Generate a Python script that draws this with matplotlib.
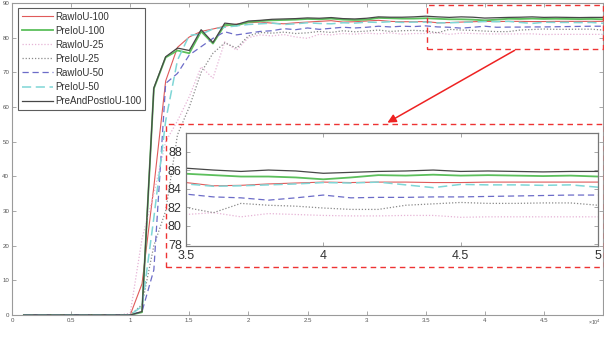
# Curvas de precisión (IoU) frente a iteraciones, con recuadro ampliado.
import matplotlib.pyplot as plt
import numpy as np
from matplotlib.patches import Rectangle, FancyArrowPatch

plt.rcParams["font.family"] = ["Liberation Sans", "DejaVu Sans"]

# iteraciones (x10^4), de 0.1 en 0.1
x = np.arange(1, 51) / 10

ceros = [0, 0, 0, 0, 0, 0, 0, 0, 0]

raw100 = ceros + [0, 9.0, 37, 67.5, 77.2, 80.2, 81.8, 82.5, 83.3, 83.9,
                  84.3, 84.5, 84.2, 84.0, 84.3, 84.5, 84.7, 84.9, 84.5, 84.6,
                  84.8, 85.0, 84.7, 84.6, 84.6,
                  84.65, 84.3, 84.35, 84.5, 84.6, 84.7, 84.65, 84.7, 84.7, 84.65,
                  84.65, 84.7, 84.7, 84.7, 84.7, 84.7]
pre100 = ceros + [0, 0.8, 65.3, 74.3, 76.3, 75.5, 81.8, 78.3, 83.7, 83.5,
                  84.5, 84.8, 85.0, 85.1, 85.2, 85.4, 85.3, 85.5, 85.2, 85.1,
                  85.2, 85.7, 85.6, 85.5, 85.5,
                  85.6, 85.45, 85.3, 85.3, 85.2, 85.0, 85.2, 85.45, 85.4, 85.5,
                  85.4, 85.45, 85.4, 85.35, 85.4, 85.3]
raw25 = ceros + [0.5, 22, 35, 50, 56, 63, 71.6, 68.3, 78.8, 76.4,
                 80.0, 80.8, 80.5, 80.9, 80.2, 79.8, 81.0, 80.8, 81.2, 81.0,
                 81.3, 81.1, 81.4, 81.0, 81.2,
                 81.2, 81.4, 80.95, 81.3, 81.2, 81.1, 81.05, 81.05, 81.1, 81.1,
                 80.9, 80.95, 80.95, 80.95, 80.95, 80.95]
pre25 = ceros + [0, 3, 20, 30, 52, 60, 70, 75.5, 78.5, 77.0,
                 80.5, 81.5, 81.3, 81.6, 81.2, 81.4, 81.8, 81.5, 82.0, 81.7,
                 81.9, 82.2, 81.8, 82.0, 82.1,
                 81.95, 81.4, 82.4, 82.2, 82.1, 81.9, 81.75, 81.75, 82.2, 82.35,
                 82.5, 82.4, 82.4, 82.45, 82.45, 82.2]
raw50 = ceros + [0, 1.0, 13, 66.8, 69.7, 75.0, 77.4, 79.8, 81.7, 80.8,
                 81.3, 81.8, 82.0, 82.6, 82.3, 82.8, 82.4, 82.7, 83.0, 82.8,
                 83.0, 83.3, 83.1, 83.3, 83.2,
                 83.4, 83.1, 83.0, 82.75, 83.0, 83.3, 83.0, 83.05, 83.05, 83.1,
                 83.1, 83.15, 83.2, 83.25, 83.3, 83.3]
pre50 = ceros + [0, 2.5, 28, 56, 73.5, 80.7, 81.0, 82.5, 83.0, 83.4,
                 83.8, 84.0, 84.2, 83.8, 84.0, 84.3, 84.1, 84.0, 84.3, 84.2,
                 84.5, 84.4, 84.6, 84.4, 84.5,
                 84.5, 84.25, 84.3, 84.4, 84.5, 84.65, 84.6, 84.7, 84.4, 84.1,
                 84.45, 84.4, 84.4, 84.35, 84.4, 84.15]
prepost100 = ceros + [0, 1.0, 65.5, 74.5, 77.0, 76.3, 82.3, 78.6, 84.2, 83.8,
                      84.8, 85.0, 85.3, 85.4, 85.5, 85.7, 85.6, 85.8, 85.5, 85.4,
                      85.6, 86.0, 85.9, 85.9, 86.0,
                      86.2, 86.0, 85.85, 86.0, 85.9, 85.65, 85.75, 85.85, 85.9, 86.0,
                      85.85, 85.9, 85.85, 85.8, 85.85, 85.85]

series = [
    ("RawIoU-100", raw100, dict(color="#e05a5a", lw=0.8, ls="-")),
    ("PreIoU-100", pre100, dict(color="#5cbf5c", lw=1.3, ls="-")),
    ("RawIoU-25", raw25, dict(color="#e6b4d6", lw=0.9, ls=(0, (1, 1.5)))),
    ("PreIoU-25", pre25, dict(color="#8a8a8a", lw=0.9, ls=(0, (1, 1.5)))),
    ("RawIoU-50", raw50, dict(color="#6c6cc8", lw=0.9, ls=(0, (5, 3)))),
    ("PreIoU-50", pre50, dict(color="#7fd6d6", lw=1.1, ls=(0, (6, 3)))),
    ("PreAndPostIoU-100", prepost100, dict(color="#474747", lw=0.9, ls="-")),
]

gris = "#9a9a9a"

fig = plt.figure(figsize=(6.04, 3.39), dpi=100, facecolor="white")

# gráfico principal
ax = fig.add_axes([12 / 604, 24 / 339, 591 / 604, 312 / 339])
for nombre, y, estilo in series:
    ax.plot(x, y, label=nombre, **estilo)
ax.set_xlim(0, 5)
ax.set_ylim(0, 90)
ax.set_xticks(np.arange(0, 5.01, 0.5))
ax.set_xticklabels(["0", "0.5", "1", "1.5", "2", "2.5", "3", "3.5", "4", "4.5", ""])
ax.set_yticks(range(0, 91, 10))
ax.tick_params(direction="in", length=3, width=0.6, labelsize=4.4,
               colors=gris, labelcolor="#555555", pad=2, top=True, right=True)
for s in ax.spines.values():
    s.set_color(gris)
    s.set_linewidth(0.8)
fig.text(595 / 604, 1 - 322 / 339, "×10$^4$", fontsize=3.8, color="#555555",
         ha="center", va="center")

ley = ax.legend(loc="upper left", bbox_to_anchor=(0.01, 0.985), fontsize=7,
                frameon=True, fancybox=False, edgecolor="#333333",
                handlelength=3.2, handletextpad=0.25, labelspacing=0.42,
                borderpad=0.4, borderaxespad=0)
ley.get_frame().set_linewidth(0.8)
for t in ley.get_texts():
    t.set_color("#333333")

# zona ampliada en el gráfico principal
ax.add_patch(Rectangle((3.51, 76.7), 1.49, 12.7, fill=False, ec="#ee3333",
                       lw=1.0, ls=(0, (4, 3)), clip_on=False, zorder=5))

# recuadro exterior de la ampliación y flecha
fig.patches.append(Rectangle((166 / 604, 1 - 267 / 339), 438 / 604, 143 / 339,
                             transform=fig.transFigure, fill=False,
                             ec="#ee3333", lw=1.0, ls=(0, (4, 3)), zorder=5))
fig.patches.append(FancyArrowPatch((517 / 604, 1 - 49 / 339),
                                   (385 / 604, 1 - 124 / 339),
                                   transform=fig.transFigure,
                                   arrowstyle="-|>,head_length=5,head_width=2.5",
                                   color="#ee2222", lw=1.1, zorder=6))

# gráfico ampliado
axi = fig.add_axes([186 / 604, 1 - 246 / 339, 412 / 604, 113 / 339])
for nombre, y, estilo in series:
    axi.plot(x, y, **estilo)
axi.set_xlim(3.5, 5)
axi.set_ylim(77.8, 90)
axi.set_xticks([3.5, 4, 4.5, 5])
axi.set_xticklabels(["3.5", "4", "4.5", "5"])
axi.set_yticks(range(78, 89, 2))
axi.tick_params(direction="in", length=3, width=0.6, labelsize=9,
                colors=gris, labelcolor="#333333", pad=3, top=True, right=True)
for s in axi.spines.values():
    s.set_color("#777777")
    s.set_linewidth(0.9)

fig.savefig("out.png", dpi=100, facecolor="white")
